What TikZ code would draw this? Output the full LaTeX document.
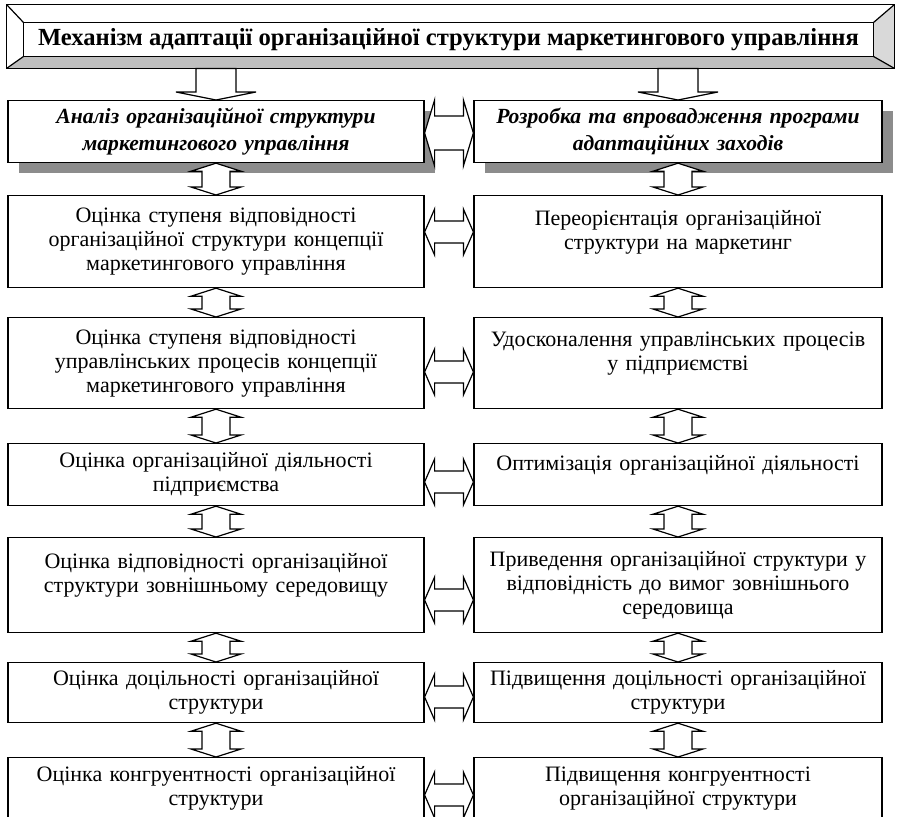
\documentclass[tikz,border=0pt]{standalone}
\usepackage{fontspec}
\setmainfont{Liberation Serif}
\usetikzlibrary{calc,shadows}

\tikzset{
  cell/.style={draw, line width=0.6pt, anchor=north, align=center, inner xsep=0pt, inner ysep=0pt,
    font=\fontsize{11}{12}\selectfont},
  leftcell/.style={cell, text width=208pt},
  rightcell/.style={cell, text width=204pt},
  headcell/.style={fill=white,
    drop shadow={shadow xshift=5.5pt, shadow yshift=-5pt, fill=black!45, opacity=1},
    font=\fontsize{10.8}{13.5}\selectfont\bfseries\itshape},
  blockarrow/.style={draw, fill=white, line width=0.6pt, line join=miter},
}

\begin{document}
\begin{tikzpicture}[x=0.5pt, y=-0.5pt]
  \path[use as bounding box, clip] (0,0) rectangle (901,816);

  % title with bevelled frame
  \node[inner sep=0pt, minimum width=424.5pt, minimum height=16.5pt,
        font=\fontsize{12.3}{14}\selectfont\bfseries] (title) at (448.5,39.5)
        {Механізм адаптації організаційної структури маркетингового управління};
  \fill[gray!50] (title.south west) -- (title.south east) -- ($(title.south east)+(21,12)$) -- ($(title.south west)+(-17,12)$) -- cycle;
  \fill[gray!30] (title.north east) -- ($(title.north east)+(21,-18)$) -- ($(title.south east)+(21,12)$) -- (title.south east) -- cycle;
  \draw[line width=0.7pt] ($(title.north west)+(-17,-18)$) rectangle ($(title.south east)+(21,12)$);
  \draw[line width=0.6pt] (title.north west) rectangle (title.south east);
  \draw[line width=0.6pt] ($(title.north west)+(-17,-18)$) -- (title.north west)
     ($(title.north east)+(21,-18)$) -- (title.north east)
     ($(title.south east)+(21,12)$) -- (title.south east)
     ($(title.south west)+(-17,12)$) -- (title.south west);

  % left column
  \node[leftcell, headcell, minimum height=31pt] (an1) at (216,100) {Аналіз організаційної структури\\маркетингового управління};
  \node[leftcell, minimum height=46pt] (an2) at (216,195) {Оцінка ступеня відповідності\\організаційної структури концепції\\маркетингового управління};
  \node[leftcell, minimum height=45.5pt] (an3) at (216,317) {Оцінка ступеня відповідності\\управлінських процесів концепції\\маркетингового управління};
  \node[leftcell, minimum height=31pt] (an4) at (216,443) {Оцінка організаційної діяльності\\підприємства};
  \node[leftcell, minimum height=47.5pt] (an5) at (216,537) {Оцінка відповідності організаційної\\структури зовнішньому середовищу\\\mbox{}};
  \node[leftcell, minimum height=30pt] (an6) at (216,662) {Оцінка доцільності організаційної\\структури};
  \node[leftcell, minimum height=31pt] (an7) at (216,757) {Оцінка конгруентності організаційної\\структури};

  % right column
  \node[rightcell, headcell, minimum height=31pt] (rz1) at (678,100) {Розробка та впровадження програми\\адаптаційних заходів};
  \node[rightcell, minimum height=46pt] (rz2) at (678,195) {Переорієнтація організаційної\\структури на маркетинг\\\mbox{}};
  \node[rightcell, minimum height=45.5pt] (rz3) at (678,317) {Удосконалення управлінських процесів\\у підприємстві\\\mbox{}};
  \node[rightcell, minimum height=31pt] (rz4) at (678,443) {Оптимізація організаційної діяльності\\\mbox{}};
  \node[rightcell, minimum height=47.5pt] (rz5) at (678,537) {Приведення організаційної структури у\\відповідність до вимог зовнішнього\\середовища};
  \node[rightcell, minimum height=30pt] (rz6) at (678,662) {Підвищення доцільності організаційної\\структури};
  \node[rightcell, minimum height=31pt] (rz7) at (678,757) {Підвищення конгруентності\\організаційної структури};

  % arrows from the title
  \foreach \n in {an1, rz1}
    \draw[blockarrow] ($(title.south -| \n.north)+(-20,12)$) -- ($(title.south -| \n.north)+(20,12)$) -- ($(\n.north)+(20,-8)$) -- ($(\n.north)+(40,-8)$) -- (\n.north) -- ($(\n.north)+(-40,-8)$) -- ($(\n.north)+(-20,-8)$) -- cycle;

  % vertical double arrows
  \foreach \col in {an, rz}
    \foreach \up/\dn in {1/2, 2/3, 3/4, 4/5, 5/6, 6/7}
      \draw[blockarrow] (\col\up.south) -- ($(\col\up.south)+(25,8)$) -- ($(\col\up.south)+(14,8)$) -- ($(\col\dn.north)+(14,-8)$) -- ($(\col\dn.north)+(25,-8)$) -- (\col\dn.north) -- ($(\col\dn.north)+(-25,-8)$) -- ($(\col\dn.north)+(-14,-8)$) -- ($(\col\up.south)+(-14,8)$) -- ($(\col\up.south)+(-25,8)$) -- cycle;

  % horizontal double arrows
  \foreach \k/\y/\h/\s in {1/133/33/17, 2/232/23/11, 3/372/23/11, 4/482/23/11, 5/600/23/11, 6/697/23/11, 7/795/23/11} {
    \coordinate (hl) at (an\k.east |- 0,\y);
    \coordinate (hr) at (rz\k.west |- 0,\y);
    \draw[blockarrow] (hl) -- ($(hl)+(10,-\h)$) -- ($(hl)+(10,-\s)$) -- ($(hr)+(-10,-\s)$) -- ($(hr)+(-10,-\h)$) -- (hr) -- ($(hr)+(-10,\h)$) -- ($(hr)+(-10,\s)$) -- ($(hl)+(10,\s)$) -- ($(hl)+(10,\h)$) -- cycle;
  }
\end{tikzpicture}
\end{document}
